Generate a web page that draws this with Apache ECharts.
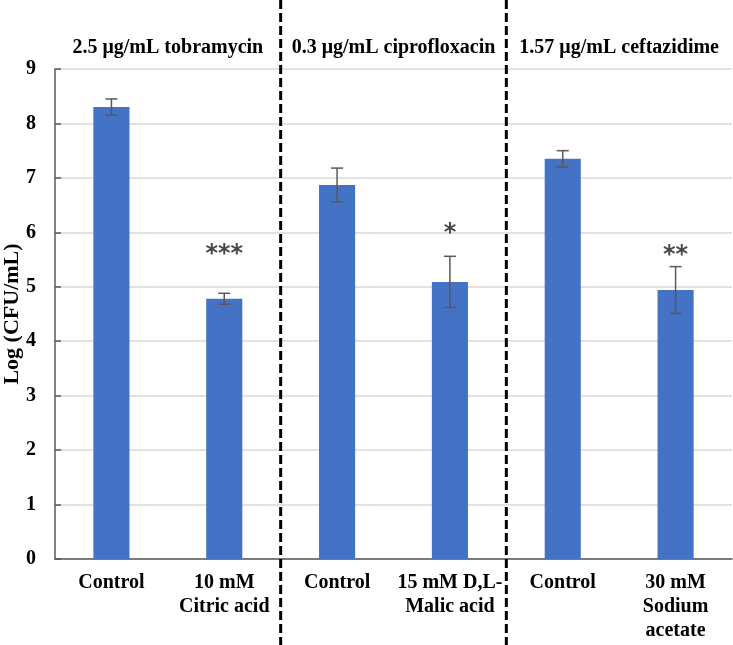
<!DOCTYPE html>
<html>
<head>
<meta charset="utf-8">
<script src="https://cdn.jsdelivr.net/npm/echarts@6/dist/echarts.min.js"></script>
<style>
  html, body { margin: 0; padding: 0; background: #fff; }
  #chart { width: 733px; height: 645px; }
</style>
</head>
<body>
<div id="chart"></div>
<script>
// ================= data =================
const categories = ['Control', '10 mM\nCitric acid', 'Control', '15 mM D,L-\nMalic acid', 'Control', '30 mM\nSodium\nacetate']
const groupTitles = ['2.5 μg/mL tobramycin', '0.3 μg/mL ciprofloxacin', '1.57 μg/mL ceftazidime']
const means = [8.30, 4.78, 6.87, 5.09, 7.35, 4.94]
const errors = [0.15, 0.10, 0.31, 0.47, 0.15, 0.43]
const stars = ['', '***', '', '*', '', '**']
const starHeights = [null, 5.59, null, 5.97, null, 5.57]
const yMin = 0
const yMax = 9
const yStep = 1

const serif = '"Liberation Serif", "Times New Roman", serif'
const chart = echarts.init(document.getElementById('chart'))

// error bar drawing
function renderErrorBar(params, api) {
  const i = api.value(0)
  const top = api.coord([i, api.value(1)])
  const bot = api.coord([i, api.value(2)])
  const w = 6
  const style = { stroke: '#595959', lineWidth: 1.5 }
  return {
    type: 'group',
    children: [
      { type: 'line', shape: { x1: top[0], y1: top[1], x2: bot[0], y2: bot[1] }, style },
      { type: 'line', shape: { x1: top[0] - w, y1: top[1], x2: top[0] + w, y2: top[1] }, style },
      { type: 'line', shape: { x1: bot[0] - w, y1: bot[1], x2: bot[0] + w, y2: bot[1] }, style },
    ],
  }
}

const option = {
  animation: false,
  grid: { left: 55, right: 1, top: 69, bottom: 86, containLabel: false, outerBoundsMode: 'none' },
  xAxis: [
    {
      type: 'category',
      data: categories,
      axisLine: { lineStyle: { color: '#595959', width: 1.5 } },
      axisTick: { inside: true, length: 6, lineStyle: { color: '#595959', width: 1.5 } },
      axisLabel: {
        interval: 0,
        margin: 12,
        color: '#000',
        fontFamily: serif,
        fontWeight: 'bold',
        fontSize: 20,
        lineHeight: 24,
      },
    },
    {
      type: 'category',
      position: 'top',
      data: groupTitles,
      axisLine: { show: false },
      axisTick: { show: false },
      axisLabel: {
        interval: 0,
        margin: 11,
        color: '#000',
        fontFamily: serif,
        fontWeight: 'bold',
        fontSize: 20,
      },
    },
  ],
  yAxis: {
    type: 'value',
    min: yMin,
    max: yMax,
    interval: yStep,
    name: 'Log (CFU/mL)',
    nameLocation: 'middle',
    nameGap: 32,
    nameMoveOverlap: false,
    nameTextStyle: { color: '#000', fontFamily: serif, fontWeight: 'bold', fontSize: 22 },
    axisLine: { show: true, lineStyle: { color: '#595959', width: 1.5 } },
    axisTick: { show: true, inside: true, length: 6, lineStyle: { color: '#595959', width: 1.5 } },
    axisLabel: { margin: 19, color: '#000', fontFamily: serif, fontWeight: 'bold', fontSize: 20 },
    splitLine: { lineStyle: { color: '#d9d9d9', width: 1.5 } },
  },
  series: [
    {
      type: 'bar',
      data: means,
      barWidth: '32%',
      itemStyle: { color: '#4472C4' },
    },
    {
      type: 'custom',
      renderItem: renderErrorBar,
      data: means.map((m, i) => [i, m + errors[i], m - errors[i]]),
      z: 5,
    },
    {
      type: 'scatter',
      symbolSize: 0,
      data: starHeights.map((h, i) => (h == null ? null : [i, h])),
      label: {
        show: true,
        position: 'inside',
        formatter: (p) => stars[p.dataIndex],
        color: '#1a1a1a',
        fontFamily: '"DejaVu Sans", sans-serif',
        fontWeight: 'bold',
        fontSize: 24,
      },
      z: 6,
    },
  ],
}
chart.setOption(option)

// dashed group separators through the whole picture
const xs = [1, 3].map((i) => {
  const a = chart.convertToPixel({ xAxisIndex: 0 }, i)
  const b = chart.convertToPixel({ xAxisIndex: 0 }, i + 1)
  return (a + b) / 2
})
chart.setOption({
  graphic: xs.map((x) => ({
    type: 'line',
    shape: { x1: x, y1: 0, x2: x, y2: 645 },
    style: { stroke: '#000', lineWidth: 3, lineDash: [9, 4] },
    z: 10,
  })),
})
</script>
</body>
</html>
